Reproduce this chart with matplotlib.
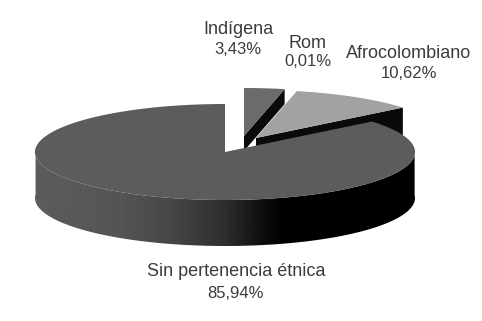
import matplotlib
matplotlib.use("Agg")
import matplotlib.pyplot as plt
from matplotlib.patches import Polygon
import numpy as np

WIDTH = 482
HEIGHT = 321

groups = ["Indígena", "Rom", "Afrocolombiano", "Sin pertenencia étnica"]
shares = [3.43, 0.01, 10.62, 85.94]

# apex of each slice in pixels, the small ones are pulled out of the pie
apex = [(244, 136), (246, 147), (256, 138), (225, 152)]
face_colors = ["#6b6b6b", "#1a1a1a", "#a2a2a2", "#5c5c5c"]
# how far the cut wall of each slice hangs below its top face
wall_depth = [15, 0, 46, 46]
label_pos = [(238, 30, 50), (308, 43, 62), (409, 53, 74), (236, 272, 293)]

RX = 190
RY = 48


def rim(center, start, end, n=200):
    # angles run clockwise from twelve o'clock, in percent of the pie
    t = np.radians(np.linspace(start, end, n) * 3.6)
    return np.column_stack((center[0] + RX * np.sin(t), center[1] - RY * np.cos(t)))


fig = plt.figure(figsize=(WIDTH / 100, HEIGHT / 100), dpi=100)
ax = fig.add_axes([0, 0, 1, 1])
ax.axis("off")

ends = np.cumsum(shares)
starts = ends - np.array(shares)

for i in range(len(shares)):
    center = apex[i]
    arc = rim(center, starts[i], ends[i])
    depth = wall_depth[i]

    if i == 3:
        # round outer wall of the big slice, shaded from grey to black
        front = arc[(arc[:, 1] >= center[1] - 4)]
        wall = np.vstack((front, (front + [0, depth])[::-1]))
        patch = Polygon(wall, closed=True, fc="none", ec="none")
        ax.add_patch(patch)
        gx = np.array([35, 70, 120, 170, 225, 260, 285, 415])
        gv = np.array([0.36, 0.35, 0.33, 0.28, 0.18, 0.06, 0.0, 0.0])
        xs = np.arange(30, 420)
        img = ax.imshow(np.interp(xs, gx, gv)[None, :], cmap="gray", vmin=0, vmax=1,
                        extent=(30, 420, 260, 100), aspect="auto", interpolation="bilinear")
        img.set_clip_path(patch)
    else:
        # flat wall along the cut on the clockwise side
        p0 = np.array(center, dtype=float)
        p1 = arc[-1]
        cut = np.array([p0, p1, p1 + [0, depth], p0 + [0, depth]])
        ax.add_patch(Polygon(cut, closed=True, fc="#0a0a0a", ec="none"))

    face = np.vstack(([center], arc))
    ax.add_patch(Polygon(face, closed=True, fc=face_colors[i], ec="none"))

for name, value, (x, y1, y2) in zip(groups, shares, label_pos):
    ax.text(x, y1, name, ha="center", va="center", fontsize=13,
            family="Liberation Sans", color="#3c3c3c")
    ax.text(x, y2, f"{value:.2f}%".replace(".", ","), ha="center", va="center",
            fontsize=12, family="Liberation Sans", color="#3c3c3c")

ax.set_xlim(0, WIDTH)
ax.set_ylim(HEIGHT, 0)

fig.savefig("out.png", dpi=100, facecolor="white")
